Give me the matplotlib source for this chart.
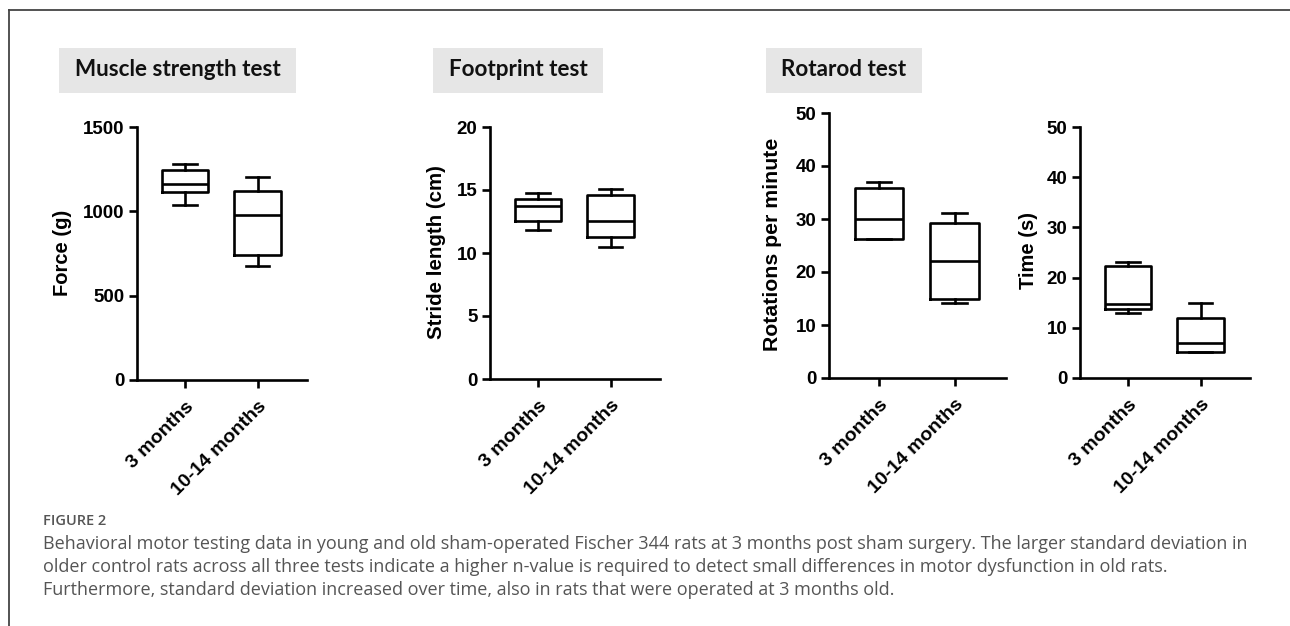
"""
Figure 2 recreation: behavioural motor tests (muscle strength, footprint,
rotarod) in young vs old sham-operated rats, drawn as box-and-whisker plots.
"""
import matplotlib
matplotlib.use("Agg")
import matplotlib.pyplot as plt
from matplotlib.patches import Rectangle
from matplotlib.lines import Line2D

W, H = 1290, 626

groups = ["3 months", "10-14 months"]

# five-number summaries (one value per group)
force_whislo = [1038, 676]
force_q1 = [1115, 741]
force_med = [1162, 978]
force_q3 = [1245, 1121]
force_whishi = [1281, 1204]

stride_whislo = [11.8, 10.5]
stride_q1 = [12.5, 11.3]
stride_med = [13.7, 12.5]
stride_q3 = [14.3, 14.6]
stride_whishi = [14.8, 15.1]

rpm_whislo = [26.2, 14.1]
rpm_q1 = [26.2, 15.0]
rpm_med = [30.0, 22.1]
rpm_q3 = [35.9, 29.2]
rpm_whishi = [37.0, 31.1]

time_whislo = [12.9, 5.2]
time_q1 = [13.7, 5.2]
time_med = [14.7, 7.0]
time_q3 = [22.3, 11.9]
time_whishi = [23.1, 14.9]

force_ticks = [0, 500, 1000, 1500]
stride_ticks = [0, 5, 10, 15, 20]
rpm_ticks = [0, 10, 20, 30, 40, 50]
time_ticks = [0, 10, 20, 30, 40, 50]

caption_lines = [
    "Behavioral motor testing data in young and old sham-operated Fischer 344 rats at 3 months post sham surgery. "
    "The larger standard deviation in",
    "older control rats across all three tests indicate a higher n-value is required to detect small differences "
    "in motor dysfunction in old rats.",
    "Furthermore, standard deviation increased over time, also in rats that were operated at 3 months old.",
]


def fx(px):
    return px / W


def fy(py):
    return 1 - py / H


def make_stats(whislo, q1, med, q3, whishi):
    return [dict(label=g, whislo=a, q1=b, med=c, q3=d, whishi=e)
            for g, a, b, c, d, e in zip(groups, whislo, q1, med, q3, whishi)]


fig = plt.figure(figsize=(W / 100, H / 100), dpi=100)
fig.patch.set_facecolor("white")

LW = 1.9
panels = [
    # (left, right, top, bottom) in pixels, stats, ticks, ylabel, label pos, label size
    ((137, 307, 127, 380), make_stats(force_whislo, force_q1, force_med, force_q3, force_whishi),
     force_ticks, "Force (g)", (62, 253), 14.5),
    ((490, 660, 127, 379), make_stats(stride_whislo, stride_q1, stride_med, stride_q3, stride_whishi),
     stride_ticks, "Stride length (cm)", (437, 252), 14.8),
    ((829, 1006, 113, 378), make_stats(rpm_whislo, rpm_q1, rpm_med, rpm_q3, rpm_whishi),
     rpm_ticks, "Rotations per minute", (773, 244), 15.3),
    ((1080, 1250, 127, 378), make_stats(time_whislo, time_q1, time_med, time_q3, time_whishi),
     time_ticks, "Time (s)", (1029, 251), 14.5),
]

for (l, r, t, b), stats, ticks, ylab, (lx, ly), lsize in panels:
    ax = fig.add_axes([fx(l), fy(b), (r - l) / W, (b - t) / H])
    line = dict(color="black", linewidth=LW)
    ax.bxp(stats, positions=[1, 2], widths=0.64, capwidths=0.32, showfliers=False,
           boxprops=line, medianprops=line, whiskerprops=line, capprops=line)
    ax.set_xlim(0.34, 2.68)
    ax.set_ylim(ticks[0], ticks[-1])
    ax.set_yticks(ticks)
    for s in ["top", "right"]:
        ax.spines[s].set_visible(False)
    for s in ["left", "bottom"]:
        ax.spines[s].set_linewidth(LW)
    ax.tick_params(direction="out", length=6, width=LW, pad=3)
    for lab in ax.get_yticklabels():
        lab.set_fontfamily("Liberation Sans")
        lab.set_fontweight("bold")
        lab.set_fontsize(13.5)
    ax.set_xticks([1, 2])
    ax.set_xticklabels(groups, rotation=45, ha="right", va="top",
                       rotation_mode="anchor", fontfamily="Liberation Sans",
                       fontweight="bold", fontsize=14)
    ax.tick_params(axis="x", pad=7)
    fig.text(fx(lx), fy(ly), ylab, rotation=90, ha="center", va="center",
             fontfamily="Liberation Sans", fontweight="bold", fontsize=lsize)

# grey title boxes above each test
titles = [("Muscle strength test", 59, 296), ("Footprint test", 433, 603), ("Rotarod test", 766, 922)]
for txt, x0, x1 in titles:
    fig.patches.append(Rectangle((fx(x0), fy(93)), (x1 - x0) / W, 45 / H,
                                 transform=fig.transFigure, facecolor="#e6e6e6",
                                 edgecolor="none", zorder=0))
    fig.text(fx((x0 + x1) / 2), fy(70), txt, ha="center", va="center",
             fontfamily="Lato", fontweight="bold", fontsize=16.2, color="#111111")

# frame lines on the top and left edge
fig.add_artist(Line2D([fx(9), 1], [fy(10), fy(10)], transform=fig.transFigure,
                      color="#444444", linewidth=1.3))
fig.add_artist(Line2D([fx(9), fx(9)], [fy(10), 0], transform=fig.transFigure,
                      color="#444444", linewidth=1.3))

fig.text(fx(43), fy(521), "FIGURE 2", ha="left", va="center", fontfamily="Open Sans",
         fontweight="semibold", fontsize=10.5, color="#555555")
for i, line_txt in enumerate(caption_lines):
    fig.text(fx(43), fy(544 + 23 * i), line_txt, ha="left", va="center",
             fontfamily="Open Sans", fontsize=13, color="#555555")

fig.savefig("out.png", dpi=100)
